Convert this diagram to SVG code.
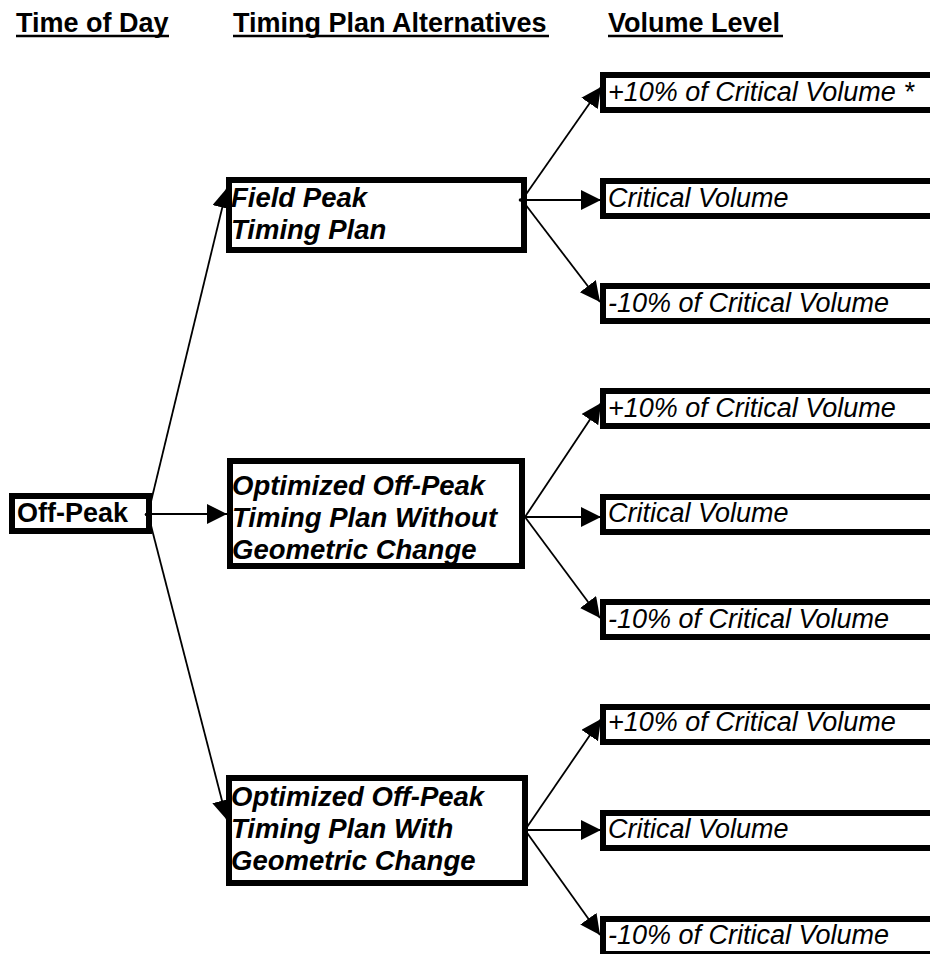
<svg xmlns="http://www.w3.org/2000/svg" width="930" height="954" viewBox="0 0 930 954">
  <style>
    .head { font-family: "Liberation Sans", Arial, sans-serif; font-size: 27px; font-weight: bold; fill: #000; }
    .uline { stroke: #000; stroke-width: 2.5; }
    .box { fill: #fff; stroke: #000; stroke-width: 6; }
    .bold { font-family: "Liberation Sans", Arial, sans-serif; font-size: 27px; font-weight: bold; fill: #000; }
    .bi { font-family: "Liberation Sans", Arial, sans-serif; font-size: 27.5px; font-weight: bold; font-style: italic; fill: #000; }
    .it { font-family: "Liberation Sans", Arial, sans-serif; font-size: 27px; font-style: italic; fill: #000; }
    .conn { stroke: #000; stroke-width: 1.8; fill: none; marker-end: url(#arrow); }
  </style>
  <defs>
    <marker id="arrow" markerUnits="userSpaceOnUse" markerWidth="21" markerHeight="21" refX="20" refY="10" orient="auto">
      <path d="M0,0 L20,10 L0,20 z" fill="#000"/>
    </marker>
  </defs>

  <!-- column headings -->
  <g id="headings">
    <text class="head" x="16" y="32">Time of Day</text>
    <line class="uline" x1="16" y1="36" x2="169" y2="36"/>
    <text class="head" x="233" y="32">Timing Plan Alternatives</text>
    <line class="uline" x1="233" y1="36" x2="549" y2="36"/>
    <text class="head" x="608" y="32">Volume Level</text>
    <line class="uline" x1="608" y1="36" x2="783" y2="36"/>
  </g>

  <!-- connectors -->
  <g id="connectors">
    <line class="conn" x1="148" y1="514" x2="227" y2="188"/>
    <line class="conn" x1="148" y1="514" x2="227" y2="514"/>
    <line class="conn" x1="148" y1="514" x2="227" y2="820"/>

    <line class="conn" x1="522" y1="200" x2="601" y2="87"/>
    <line class="conn" x1="522" y1="200" x2="601" y2="200"/>
    <line class="conn" x1="522" y1="200" x2="600" y2="302"/>

    <line class="conn" x1="525" y1="517" x2="601" y2="403"/>
    <line class="conn" x1="525" y1="517" x2="601" y2="517"/>
    <line class="conn" x1="525" y1="517" x2="600" y2="618"/>

    <line class="conn" x1="525" y1="830" x2="601" y2="719"/>
    <line class="conn" x1="525" y1="830" x2="601" y2="830"/>
    <line class="conn" x1="525" y1="830" x2="600" y2="935"/>
  </g>

  <!-- time of day -->
  <g id="off-peak">
    <rect class="box" x="12" y="496" width="137" height="35"/>
    <text class="bold" x="17" y="521.5">Off-Peak</text>
    <circle cx="146.5" cy="514.5" r="1.8" fill="#000"/>
  </g>

  <!-- timing plan alternatives -->
  <g id="field-peak">
    <rect class="box" x="229" y="180" width="295" height="70"/>
    <text class="bi" x="231" y="207">Field Peak</text>
    <text class="bi" x="231" y="239">Timing Plan</text>
    <circle cx="520.5" cy="200" r="1.8" fill="#000"/>
  </g>
  <g id="opt-without">
    <rect class="box" x="230" y="461" width="292" height="105"/>
    <text class="bi" x="232" y="495">Optimized Off-Peak</text>
    <text class="bi" x="232" y="527">Timing Plan Without</text>
    <text class="bi" x="232" y="559">Geometric Change</text>
  </g>
  <g id="opt-with">
    <rect class="box" x="229" y="778" width="296" height="105"/>
    <text class="bi" x="231" y="806">Optimized Off-Peak</text>
    <text class="bi" x="231" y="838">Timing Plan With</text>
    <text class="bi" x="231" y="870">Geometric Change</text>
  </g>

  <!-- volume levels (boxes run past the right edge) -->
  <g id="fp-plus">
    <rect class="box" x="603" y="75" width="360" height="35"/>
    <text class="it" x="608" y="100.5">+10% of Critical Volume *</text>
  </g>
  <g id="fp-critical">
    <rect class="box" x="603" y="181" width="360" height="35"/>
    <text class="it" x="608" y="206.5">Critical Volume</text>
  </g>
  <g id="fp-minus">
    <rect class="box" x="603" y="286" width="360" height="35"/>
    <text class="it" x="608" y="311.5">-10% of Critical Volume</text>
  </g>

  <g id="ow-plus">
    <rect class="box" x="603" y="391" width="360" height="35"/>
    <text class="it" x="608" y="416.5">+10% of Critical Volume</text>
  </g>
  <g id="ow-critical">
    <rect class="box" x="603" y="497" width="360" height="35"/>
    <text class="it" x="608" y="522">Critical Volume</text>
  </g>
  <g id="ow-minus">
    <rect class="box" x="603" y="602" width="360" height="35"/>
    <text class="it" x="608" y="628">-10% of Critical Volume</text>
  </g>

  <g id="gw-plus">
    <rect class="box" x="603" y="707" width="360" height="35"/>
    <text class="it" x="608" y="731">+10% of Critical Volume</text>
  </g>
  <g id="gw-critical">
    <rect class="box" x="603" y="813" width="360" height="35"/>
    <text class="it" x="608" y="837.5">Critical Volume</text>
  </g>
  <g id="gw-minus">
    <rect class="box" x="603" y="919" width="360" height="35"/>
    <text class="it" x="608" y="943.5">-10% of Critical Volume</text>
  </g>
</svg>
